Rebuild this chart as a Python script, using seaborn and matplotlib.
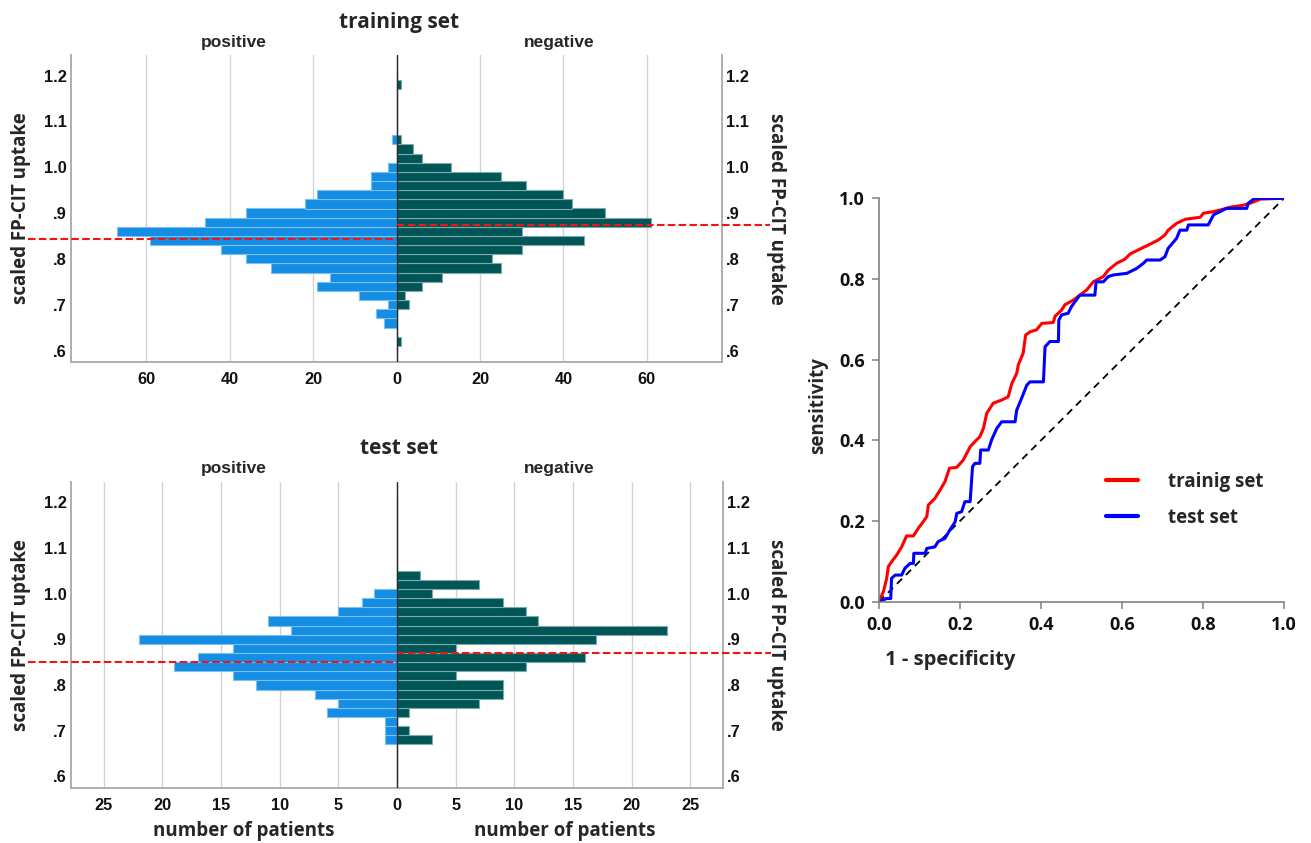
import numpy as np
import matplotlib
matplotlib.use("Agg")
import matplotlib.pyplot as plt
import seaborn as sns

# ---------------- data ----------------
train_pos_uptake = [1.06, 1.00, 0.98, 0.96, 0.94, 0.92, 0.90, 0.88, 0.86, 0.84,
                    0.82, 0.80, 0.78, 0.76, 0.74, 0.72, 0.70, 0.68, 0.66]
train_pos_count = [1, 2, 6, 6, 19, 22, 36, 46, 67, 59, 42, 36, 30, 16, 19, 9, 2, 5, 3]

train_neg_uptake = [1.18, 1.06, 1.04, 1.02, 1.00, 0.98, 0.96, 0.94, 0.92, 0.90, 0.88,
                    0.86, 0.84, 0.82, 0.80, 0.78, 0.76, 0.74, 0.72, 0.70, 0.62]
train_neg_count = [1, 1, 4, 6, 13, 25, 31, 40, 42, 50, 61, 30, 45, 30, 23, 25, 11, 6, 2, 3, 1]

test_pos_uptake = [1.00, 0.98, 0.96, 0.94, 0.92, 0.90, 0.88, 0.86, 0.84, 0.82,
                   0.80, 0.78, 0.76, 0.74, 0.72, 0.70, 0.68]
test_pos_count = [2, 3, 5, 11, 9, 22, 14, 17, 19, 14, 12, 7, 5, 6, 1, 1, 1]

test_neg_uptake = [1.04, 1.02, 1.00, 0.98, 0.96, 0.94, 0.92, 0.90, 0.88, 0.86,
                   0.84, 0.82, 0.80, 0.78, 0.76, 0.74, 0.70, 0.68]
test_neg_count = [2, 7, 3, 9, 11, 12, 23, 17, 5, 16, 11, 5, 9, 9, 7, 1, 1, 3]

train_pos_mean = 0.843
train_neg_mean = 0.873
test_pos_mean = 0.850
test_neg_mean = 0.870

ytick_vals = [0.6, 0.7, 0.8, 0.9, 1.0, 1.1, 1.2]
ytick_labels = [".6", ".7", ".8", ".9", "1.0", "1.1", "1.2"]
train_xticks = [-60, -40, -20, 0, 20, 40, 60]
train_xlabels = ["60", "40", "20", "0", "20", "40", "60"]
test_xticks = [-25, -20, -15, -10, -5, 0, 5, 10, 15, 20, 25]
test_xlabels = ["25", "20", "15", "10", "5", "0", "5", "10", "15", "20", "25"]

# ROC curves (1 - specificity, sensitivity)
roc_train_fpr = [0.0, 0.011, 0.019, 0.023, 0.031, 0.044, 0.056, 0.068, 0.085, 0.097,
                 0.109, 0.118, 0.122, 0.138, 0.151, 0.163, 0.174, 0.192, 0.208, 0.225,
                 0.237, 0.249, 0.258, 0.266, 0.282, 0.303, 0.319, 0.328, 0.340, 0.344,
                 0.356, 0.362, 0.373, 0.389, 0.402, 0.430, 0.435, 0.451, 0.459, 0.480,
                 0.496, 0.513, 0.529, 0.554, 0.566, 0.587, 0.607, 0.620, 0.644, 0.665,
                 0.690, 0.706, 0.714, 0.735, 0.756, 0.793, 0.801, 0.826, 0.850, 0.867,
                 0.900, 0.920, 0.941, 1.0]
roc_train_tpr = [0.0, 0.025, 0.058, 0.087, 0.099, 0.116, 0.136, 0.163, 0.163, 0.182,
                 0.198, 0.211, 0.240, 0.256, 0.277, 0.298, 0.331, 0.333, 0.351, 0.384,
                 0.397, 0.409, 0.430, 0.467, 0.492, 0.500, 0.508, 0.541, 0.566, 0.587,
                 0.616, 0.661, 0.669, 0.674, 0.690, 0.692, 0.708, 0.723, 0.736, 0.748,
                 0.760, 0.773, 0.793, 0.806, 0.822, 0.839, 0.849, 0.862, 0.874, 0.884,
                 0.897, 0.909, 0.921, 0.938, 0.948, 0.953, 0.963, 0.967, 0.973, 0.978,
                 0.983, 0.989, 0.998, 1.0]

roc_test_fpr = [0.0, 0.019, 0.029, 0.031, 0.040, 0.056, 0.064, 0.077, 0.085, 0.086,
                0.114, 0.118, 0.138, 0.146, 0.163, 0.175, 0.188, 0.192, 0.204, 0.212,
                0.225, 0.231, 0.237, 0.249, 0.251, 0.270, 0.278, 0.291, 0.303, 0.336,
                0.340, 0.352, 0.365, 0.373, 0.406, 0.410, 0.422, 0.443, 0.444, 0.451,
                0.467, 0.475, 0.484, 0.496, 0.533, 0.536, 0.554, 0.566, 0.579, 0.612,
                0.636, 0.653, 0.661, 0.694, 0.706, 0.714, 0.735, 0.743, 0.760, 0.764,
                0.813, 0.826, 0.858, 0.908, 0.912, 0.928, 1.0]
roc_test_tpr = [0.0, 0.008, 0.008, 0.058, 0.066, 0.066, 0.083, 0.095, 0.095, 0.120,
                0.120, 0.132, 0.136, 0.149, 0.157, 0.178, 0.198, 0.219, 0.223, 0.248,
                0.248, 0.335, 0.343, 0.343, 0.376, 0.376, 0.401, 0.430, 0.446, 0.446,
                0.475, 0.504, 0.537, 0.545, 0.545, 0.632, 0.645, 0.645, 0.698, 0.711,
                0.715, 0.731, 0.744, 0.760, 0.760, 0.793, 0.793, 0.806, 0.810, 0.814,
                0.826, 0.839, 0.847, 0.847, 0.855, 0.876, 0.901, 0.921, 0.921, 0.934,
                0.934, 0.959, 0.975, 0.975, 0.988, 1.0, 1.0]
diag_x = [0.0, 1.0]
diag_y = [0.0, 1.0]
roc_ticks = [0.0, 0.2, 0.4, 0.6, 0.8, 1.0]
roc_ticklabels = ["0.0", "0.2", "0.4", "0.6", "0.8", "1.0"]

# ---------------- style ----------------
sns.set_theme(style="white")
plt.rcParams["font.family"] = ["Liberation Sans", "DejaVu Sans"]
ARIAL = ["Liberation Sans", "DejaVu Sans"]
CAL = ["Open Sans", "DejaVu Sans"]

BLUE = "#148de4"
BLUE_EDGE = "#7cc0f0"
GREEN = "#005656"
GREEN_EDGE = "#7fa9a9"
RED = "#f01414"
SPINE = "#a8a8a8"
GRID = "#d2d2d2"

W, H = 1311, 843
fig = plt.figure(figsize=(W / 100, H / 100), dpi=100)


def px_axes(l, t, r, b):
    return fig.add_axes([l / W, 1 - b / H, (r - l) / W, (b - t) / H])


def draw_hist(ax, pu, pc, nu, nc, xmax, xt, xl, pmean, nmean):
    sns.histplot(y=pu, weights=-np.array(pc, dtype=float), binwidth=0.02,
                 binrange=(0.59, 1.21), color=BLUE, edgecolor=BLUE_EDGE,
                 linewidth=0.8, alpha=1, ax=ax, zorder=2)
    sns.histplot(y=nu, weights=np.array(nc, dtype=float), binwidth=0.02,
                 binrange=(0.59, 1.21), color=GREEN, edgecolor=GREEN_EDGE,
                 linewidth=0.8, alpha=1, ax=ax, zorder=2)
    ax.set_xlim(-xmax, xmax)
    ax.set_ylim(0.575, 1.245)
    ax.axvline(0, color="#2a2a2a", lw=1.0, zorder=3)
    ax.xaxis.grid(True, color=GRID, lw=1.0)
    ax.yaxis.grid(False)
    ax.set_axisbelow(True)
    for s in ["left", "right", "bottom"]:
        ax.spines[s].set_color(SPINE)
        ax.spines[s].set_linewidth(1.3)
    ax.spines["top"].set_visible(False)
    ax.set_xticks(xt)
    ax.set_xticklabels(xl)
    ax.set_yticks(ytick_vals)
    ax.set_yticklabels(ytick_labels)
    ax.tick_params(axis="x", length=0, pad=7.5, labelsize=11.8)
    ax.tick_params(axis="y", length=0, pad=3, labelsize=11.8,
                   labelleft=True, labelright=True)
    for lab in ax.get_xticklabels() + ax.get_yticklabels():
        lab.set_fontweight("bold")
        lab.set_color("#111111")
    ax.set_xlabel("")
    ax.set_ylabel("")
    tr = ax.get_yaxis_transform()
    ax.plot([-0.066, 0.5], [pmean, pmean], transform=tr, clip_on=False,
            color=RED, lw=1.5, dashes=(3.6, 1.6), zorder=4)
    ax.plot([0.5, 1.074], [nmean, nmean], transform=tr, clip_on=False,
            color=RED, lw=1.5, dashes=(3.6, 1.6), zorder=4)


def ftext(x, y, s, **kw):
    fig.text(x / W, 1 - y / H, s, **kw)


# top histogram: training set
ax1 = px_axes(71, 55, 722, 362)
draw_hist(ax1, train_pos_uptake, train_pos_count, train_neg_uptake, train_neg_count,
          78, train_xticks, train_xlabels, train_pos_mean, train_neg_mean)
ftext(399, 28, "training set", ha="center", va="baseline", fontsize=15,
      fontweight="bold", family=CAL)
ftext(234, 47.5, "positive", ha="center", va="baseline", fontsize=12.5,
      fontweight="bold", family=ARIAL)
ftext(559.5, 47.5, "negative", ha="center", va="baseline", fontsize=12.5,
      fontweight="bold", family=ARIAL)
ftext(21, 208.5, "scaled FP-CIT uptake", ha="center", va="center", rotation=90,
      fontsize=13.5, fontweight="bold", family=CAL)
ftext(776, 208.5, "scaled FP-CIT uptake", ha="center", va="center", rotation=270,
      fontsize=13.5, fontweight="bold", family=CAL)

# bottom histogram: test set
ax2 = px_axes(71, 481.7, 723, 787.7)
draw_hist(ax2, test_pos_uptake, test_pos_count, test_neg_uptake, test_neg_count,
          27.8, test_xticks, test_xlabels, test_pos_mean, test_neg_mean)
ftext(399, 454, "test set", ha="center", va="baseline", fontsize=15,
      fontweight="bold", family=CAL)
ftext(234, 472.5, "positive", ha="center", va="baseline", fontsize=12.5,
      fontweight="bold", family=ARIAL)
ftext(559.5, 472.5, "negative", ha="center", va="baseline", fontsize=12.5,
      fontweight="bold", family=ARIAL)
ftext(21, 634.7, "scaled FP-CIT uptake", ha="center", va="center", rotation=90,
      fontsize=13.5, fontweight="bold", family=CAL)
ftext(776, 634.7, "scaled FP-CIT uptake", ha="center", va="center", rotation=270,
      fontsize=13.5, fontweight="bold", family=CAL)
ftext(244, 831, "number of patients", ha="center", va="center", fontsize=13.5,
      fontweight="bold", family=CAL)
ftext(565, 831, "number of patients", ha="center", va="center", fontsize=13.5,
      fontweight="bold", family=CAL)

# ROC curve
ax3 = px_axes(879, 198.3, 1284, 601.7)
sns.lineplot(x=roc_train_fpr, y=roc_train_tpr, sort=False, estimator=None,
             color="#ff0000", lw=2.2, ax=ax3, label="trainig set")
sns.lineplot(x=roc_test_fpr, y=roc_test_tpr, sort=False, estimator=None,
             color="#0000ff", lw=2.2, ax=ax3, label="test set")
ax3.plot(diag_x, diag_y, color="black", lw=1.3, dashes=(4, 3), zorder=1)
ax3.set_xlim(0, 1)
ax3.set_ylim(0, 1)
ax3.set_xticks(roc_ticks)
ax3.set_xticklabels(roc_ticklabels)
ax3.set_yticks(roc_ticks)
ax3.set_yticklabels(roc_ticklabels)
for s in ["top", "right"]:
    ax3.spines[s].set_visible(False)
for s in ["left", "bottom"]:
    ax3.spines[s].set_color("#808080")
    ax3.spines[s].set_linewidth(1.2)
ax3.tick_params(direction="out", length=5, width=1.1, color="#808080",
                labelsize=13, pad=5, bottom=True, left=True)
for lab in ax3.get_xticklabels() + ax3.get_yticklabels():
    lab.set_fontweight("bold")
    lab.set_family(CAL)
    lab.set_color("#111111")
ax3.set_xlabel("")
ax3.set_ylabel("")
ax3.grid(False)
ftext(950, 660, "1 - specificity", ha="center", va="center", fontsize=14.5,
      fontweight="bold", family=CAL)
ftext(818, 406, "sensitivity", ha="center", va="center", rotation=90,
      fontsize=13.5, fontweight="bold", family=CAL)
leg = ax3.legend(frameon=False, loc="upper left", bbox_to_anchor=(0.538, 0.345),
                 borderpad=0, handlelength=1.67, handletextpad=1.6,
                 labelspacing=0.85, prop={"family": CAL, "weight": "bold", "size": 13.5})
for line in leg.get_lines():
    line.set_linewidth(3)

fig.savefig("out.png", dpi=100)
